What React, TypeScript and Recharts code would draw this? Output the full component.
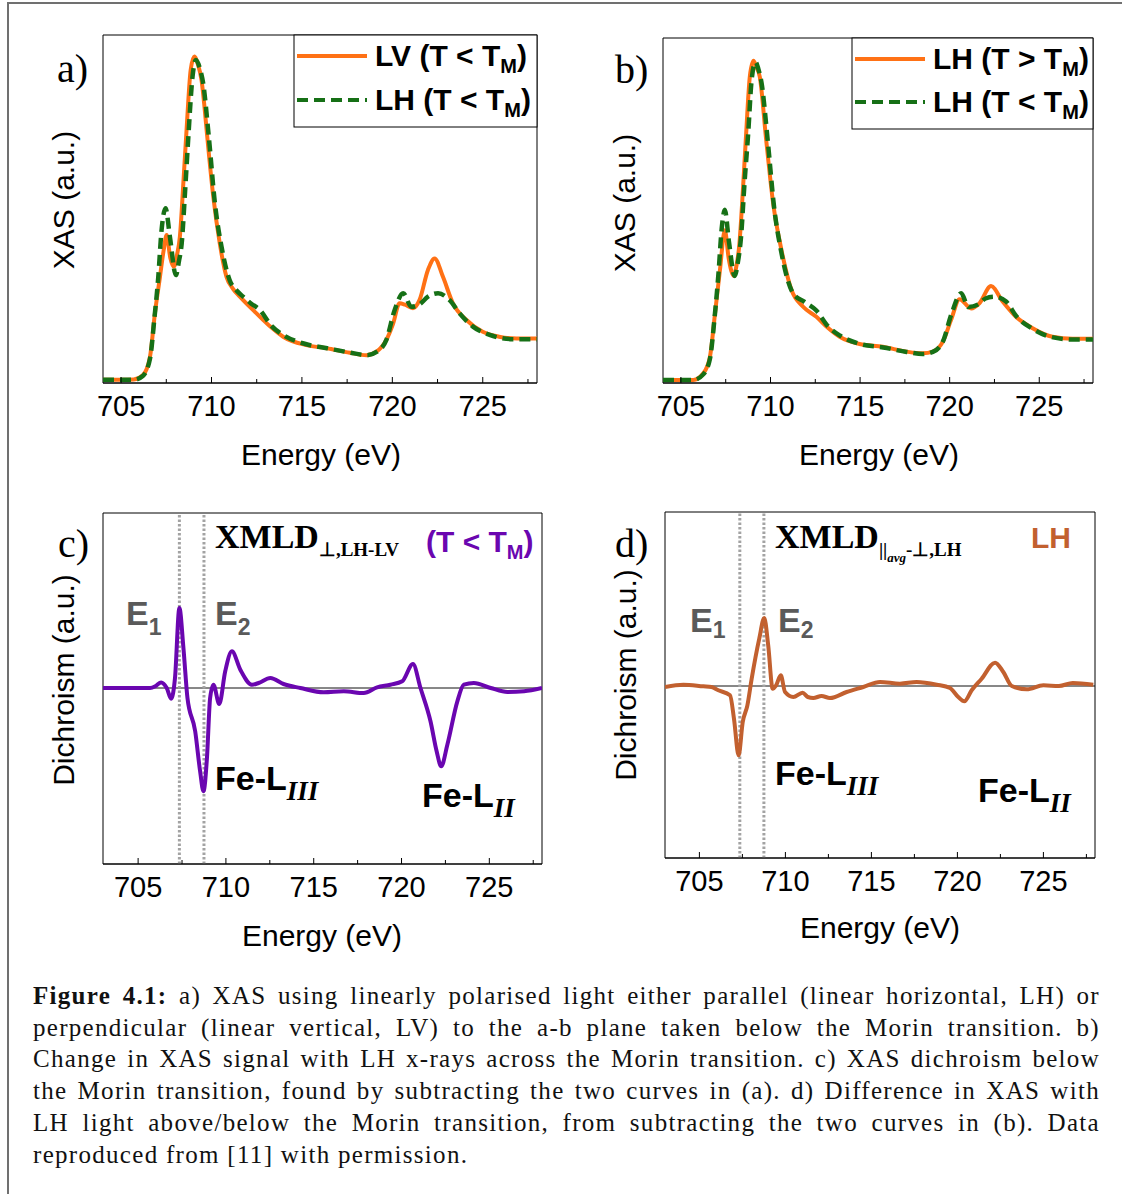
import React from "react";
import { LineChart, Line, XAxis, YAxis, ReferenceArea, ReferenceLine } from "recharts";

const SANS = '"Liberation Sans", Arial, sans-serif';
const SERIF = '"Liberation Serif", "Times New Roman", serif';

const ORANGE = "#ff7115";
const GREEN = "#167016";
const PURPLE = "#6a06b0";
const BROWN = "#c2602f";
const GREY_TEXT = "#5a5a5a";

// x ticks (eV): every 2.5 eV, labels every 5 eV
const X_TICKS = [705, 707.5, 710, 712.5, 715, 717.5, 720, 722.5, 725, 727.5];
const X_LABELS = [705, 710, 715, 720, 725];

// dotted guide lines at E1 / E2
const E_MARKERS = [707.35, 708.75];

// a) LV (T < TM)  [energy, XAS]
const A_LV = [
  [704.0, 0.009], [705.0, 0.009], [705.7, 0.01], [706.2, 0.022], [706.6, 0.076], [706.87, 0.2],
  [707.15, 0.305], [707.35, 0.38], [707.52, 0.425], [707.72, 0.36], [707.92, 0.334], [708.1, 0.37],
  [708.25, 0.42], [708.45, 0.58], [708.62, 0.727], [708.85, 0.9], [709.05, 0.938], [709.25, 0.915],
  [709.45, 0.87], [709.6, 0.8], [709.73, 0.727], [710.1, 0.535], [710.46, 0.4], [710.83, 0.305],
  [711.2, 0.27], [711.57, 0.248], [712.49, 0.2], [713.3, 0.16], [713.96, 0.133], [715.25, 0.109],
  [716.36, 0.1], [717.65, 0.087], [718.57, 0.08], [719.12, 0.09], [719.67, 0.124], [720.04, 0.17],
  [720.4, 0.229], [720.7, 0.225], [721.14, 0.215], [721.5, 0.238], [721.97, 0.325], [722.34, 0.358],
  [722.8, 0.305], [723.35, 0.229], [724.1, 0.181], [725.0, 0.147], [725.9, 0.133], [726.86, 0.128],
  [728.0, 0.128],
];

// a) LH (T < TM)
const A_LH = [
  [704.0, 0.009], [705.7, 0.009], [706.2, 0.02], [706.6, 0.07], [706.85, 0.19], [707.05, 0.3],
  [707.24, 0.44], [707.46, 0.502], [707.7, 0.42], [708.03, 0.31], [708.2, 0.35], [708.35, 0.4],
  [708.55, 0.56], [708.72, 0.708], [708.95, 0.88], [709.14, 0.928], [709.35, 0.905], [709.54, 0.861],
  [709.85, 0.708], [710.19, 0.516], [710.56, 0.39], [711.0, 0.296], [711.4, 0.265], [711.75, 0.248],
  [712.2, 0.228], [712.67, 0.21], [713.3, 0.165], [713.96, 0.138], [715.2, 0.112], [716.4, 0.1],
  [717.6, 0.088], [718.6, 0.08], [719.15, 0.09], [719.67, 0.124], [720.13, 0.21], [720.6, 0.258],
  [721.05, 0.219], [721.5, 0.226], [721.97, 0.248], [722.53, 0.258], [723.17, 0.238], [723.72, 0.2],
  [724.46, 0.162], [725.38, 0.138], [726.67, 0.126], [728.0, 0.126],
];

// b) LH (T > TM)
const B_LH_ABOVE = [
  [704.0, 0.009], [705.69, 0.009], [706.25, 0.028], [706.62, 0.076], [706.9, 0.2], [707.18, 0.328],
  [707.45, 0.443], [707.67, 0.36], [707.96, 0.31], [708.1, 0.34], [708.25, 0.395], [708.45, 0.55],
  [708.62, 0.704], [708.85, 0.89], [709.05, 0.934], [709.22, 0.915], [709.4, 0.888], [709.76, 0.704],
  [710.15, 0.52], [710.61, 0.386], [711.17, 0.27], [711.82, 0.221], [712.56, 0.192], [713.2, 0.16],
  [713.86, 0.134], [714.97, 0.113], [716.27, 0.105], [717.58, 0.091], [718.5, 0.086], [719.06, 0.091],
  [719.62, 0.12], [720.08, 0.183], [720.55, 0.243], [721.2, 0.216], [721.66, 0.231], [722.31, 0.281],
  [722.96, 0.236], [723.7, 0.192], [724.63, 0.159], [725.74, 0.134], [726.86, 0.128], [728.0, 0.128],
];

// b) LH (T < TM)
const B_LH_BELOW = [
  [704.0, 0.009], [705.7, 0.009], [706.25, 0.025], [706.62, 0.07], [706.88, 0.19], [707.1, 0.32],
  [707.28, 0.45], [707.45, 0.502], [707.68, 0.41], [708.0, 0.31], [708.18, 0.35], [708.35, 0.42],
  [708.55, 0.58], [708.75, 0.72], [708.95, 0.88], [709.16, 0.93], [709.35, 0.905], [709.5, 0.87],
  [709.85, 0.7], [710.2, 0.51], [710.6, 0.38], [711.26, 0.26], [711.9, 0.235], [712.56, 0.21],
  [713.2, 0.165], [713.86, 0.138], [715.0, 0.113], [716.3, 0.103], [717.6, 0.09], [718.5, 0.084],
  [719.06, 0.09], [719.62, 0.12], [720.1, 0.2], [720.64, 0.26], [721.05, 0.22], [721.6, 0.228],
  [722.0, 0.245], [722.5, 0.25], [723.15, 0.236], [723.7, 0.195], [724.6, 0.158], [725.7, 0.133],
  [726.9, 0.126], [728.0, 0.126],
];

// c) XMLD perp, LH-LV
const C_XMLD = [
  [703.0, 0], [705.68, 0], [706.0, 0.02], [706.31, 0.056], [706.63, 0], [706.88, -0.107],
  [707.1, 0.1], [707.35, 0.8], [707.58, 0.4], [707.81, -0.1], [708.25, -0.433], [708.53, -0.833],
  [708.72, -1.033], [708.92, -0.7], [709.1, -0.1], [709.29, 0.033], [709.62, -0.16], [709.96, 0.167],
  [710.34, 0.367], [710.82, 0.183], [711.48, 0.033], [711.86, 0.05], [712.53, 0.1], [713.28, 0.04],
  [714.24, 0], [715.57, -0.043], [716.71, -0.033], [717.85, -0.05], [718.61, 0.007], [719.37, 0.033],
  [720.04, 0.067], [720.65, 0.24], [721.08, 0], [721.65, -0.333], [722.0, -0.633], [722.26, -0.783],
  [722.61, -0.567], [723.18, -0.133], [723.55, 0.033], [724.12, 0.05], [725.08, 0], [726.03, -0.04],
  [726.98, -0.033], [728.0, 0],
];

// d) XMLD par(avg)-perp, LH
const D_XMLD = [
  [703.0, -0.01], [704.07, 0.013], [705.23, -0.003], [705.7, -0.01], [706.1, -0.043], [706.78, -0.093],
  [707.01, -0.327], [707.28, -0.693], [707.52, -0.36], [707.79, -0.193], [708.04, 0.073],
  [708.48, 0.473], [708.77, 0.68], [709.0, 0.407], [709.26, -0.027], [709.46, 0.007], [709.73, 0.107],
  [709.98, -0.06], [710.46, -0.11], [711.0, -0.067], [711.3, -0.11], [711.62, -0.12], [712.1, -0.1],
  [712.59, -0.12], [713.56, -0.06], [714.53, -0.01], [715.5, 0.04], [716.66, 0.023], [717.63, 0.04],
  [718.8, 0.013], [719.57, -0.02], [720.05, -0.11], [720.4, -0.153], [720.83, -0.043], [721.41, 0.073],
  [722.19, 0.233], [722.67, 0.14], [723.16, 0], [724.03, -0.033], [725.0, 0.007], [725.9, 0],
  [726.71, 0.03], [727.9, 0.013],
];

const toPts = (rows: number[][]) => rows.map(([e, v]) => ({ e, v }));

const PAD = 10;
const AXIS_H = 50;

function EnergyTick(props: any) {
  const { x, y, payload } = props;
  const labelled = X_LABELS.includes(payload.value);
  return (
    <g>
      <line x1={x} x2={x} y1={y} y2={y - (labelled ? 6 : 4)} stroke="#000" strokeWidth={1} />
      {labelled && (
        <text x={x} y={y + 33} textAnchor="middle" fontFamily={SANS} fontSize={29} fill="#000">
          {payload.value}
        </text>
      )}
    </g>
  );
}

type Series = { key: string; rows: number[][]; color: string; dash?: string; width?: number };

function Panel({
  box,
  xDomain,
  yDomain,
  series,
  diff = false,
}: {
  box: [number, number, number, number];
  xDomain: [number, number];
  yDomain: [number, number];
  series: Series[];
  diff?: boolean;
}) {
  const [l, t, r, b] = box;
  const w = r - l;
  const h = b - t;
  return (
    <div style={{ position: "absolute", left: l - PAD, top: t - PAD }}>
      <LineChart
        width={w + 2 * PAD}
        height={h + PAD + AXIS_H}
        margin={{ top: PAD, right: PAD, bottom: 0, left: PAD }}
      >
        <XAxis
          dataKey="e"
          type="number"
          domain={xDomain}
          ticks={X_TICKS}
          interval={0}
          tick={<EnergyTick />}
          tickLine={false}
          tickSize={0}
          tickMargin={0}
          height={AXIS_H}
          axisLine={{ stroke: "#000" }}
          allowDataOverflow
        />
        <YAxis hide type="number" domain={yDomain} allowDataOverflow />
        <ReferenceArea
          x1={xDomain[0]}
          x2={xDomain[1]}
          y1={yDomain[0]}
          y2={yDomain[1]}
          fill="none"
          stroke="#000"
          strokeWidth={1}
        />
        {diff && <ReferenceLine y={0} stroke="#111" strokeWidth={1} />}
        {diff &&
          E_MARKERS.map((m) => (
            <ReferenceLine key={m} x={m} stroke="#a3a3a3" strokeWidth={3} strokeDasharray="2.5 2" />
          ))}
        {series.map((s) => (
          <Line
            key={s.key}
            data={toPts(s.rows)}
            dataKey="v"
            type="monotone"
            stroke={s.color}
            strokeWidth={s.width ?? 4}
            strokeDasharray={s.dash}
            dot={false}
            activeDot={false}
            isAnimationActive={false}
          />
        ))}
      </LineChart>
    </div>
  );
}

function Legend2({
  x,
  y,
  w,
  h,
  rows,
}: {
  x: number;
  y: number;
  w: number;
  h: number;
  rows: { label: string; rel: string; color: string; dash?: string; cy: number }[];
}) {
  return (
    <g>
      <rect x={x} y={y} width={w} height={h} fill="#fff" stroke="#000" strokeWidth={1} />
      {rows.map((r) => (
        <g key={r.label + r.rel}>
          <line x1={x + 3} x2={x + 73} y1={r.cy} y2={r.cy} stroke={r.color} strokeWidth={4} strokeDasharray={r.dash} />
          <text x={x + 81} y={r.cy + 10} fontFamily={SANS} fontWeight="bold" fontSize={30} fill="#000">
            {r.label} (T {r.rel} T
            <tspan fontSize={20} dy={7}>M</tspan>
            <tspan dy={-7}>)</tspan>
          </text>
        </g>
      ))}
    </g>
  );
}

function Sub({ x, y, main, sub, size, subSize, color, dy = 9, italicSerif = false }: any) {
  return (
    <text x={x} y={y} fontFamily={SANS} fontWeight="bold" fontSize={size} fill={color}>
      {main}
      <tspan
        dy={dy}
        fontSize={subSize}
        fontFamily={italicSerif ? SERIF : SANS}
        fontStyle={italicSerif ? "italic" : "normal"}
      >
        {sub}
      </tspan>
    </text>
  );
}

const CAPTION = [
  "a) XAS using linearly polarised light either parallel (linear horizontal, LH) or",
  "perpendicular (linear vertical, LV) to the a-b plane taken below the Morin transition. b)",
  "Change in XAS signal with LH x-rays across the Morin transition. c) XAS dichroism below",
  "the Morin transition, found by subtracting the two curves in (a). d) Difference in XAS with",
  "LH light above/below the Morin transition, from subtracting the two curves in (b). Data",
  "reproduced from [11] with permission.",
];

export default function App() {
  return (
    <div
      style={{
        position: "absolute",
        left: 0,
        top: 0,
        width: 1122,
        height: 1194,
        overflow: "hidden",
        background: "#fff",
      }}
    >
      <div
        style={{
          position: "absolute",
          left: 7,
          top: 2,
          width: 1113,
          height: 1190,
          borderLeft: "2px solid #707070",
          borderTop: "2px solid #707070",
        }}
      />

      <Panel
        box={[103, 35, 537, 383]}
        xDomain={[704, 728]}
        yDomain={[0, 1]}
        series={[
          { key: "lv", rows: A_LV, color: ORANGE },
          { key: "lh", rows: A_LH, color: GREEN, dash: "11 6", width: 4.5 },
        ]}
      />
      <Panel
        box={[663, 38, 1093, 383]}
        xDomain={[704, 728]}
        yDomain={[0, 1]}
        series={[
          { key: "above", rows: B_LH_ABOVE, color: ORANGE },
          { key: "below", rows: B_LH_BELOW, color: GREEN, dash: "11 6", width: 4.5 },
        ]}
      />
      <Panel
        box={[103, 513, 542, 864]}
        xDomain={[703, 728]}
        yDomain={[-1.76, 1.75]}
        diff
        series={[{ key: "c", rows: C_XMLD, color: PURPLE }]}
      />
      <Panel
        box={[665, 512, 1095, 858]}
        xDomain={[703, 728]}
        yDomain={[-1.72, 1.74]}
        diff
        series={[{ key: "d", rows: D_XMLD, color: BROWN }]}
      />

      <svg
        width={1122}
        height={1194}
        style={{ position: "absolute", left: 0, top: 0, pointerEvents: "none" }}
      >
        {/* panel letters */}
        <g fontFamily={SERIF} fontSize={40} fill="#000">
          <text x={57} y={82}>a)</text>
          <text x={615} y={83}>b)</text>
          <text x={58} y={557}>c)</text>
          <text x={615} y={557}>d)</text>
        </g>

        {/* axis titles */}
        <g fontFamily={SANS} fontSize={30} fill="#000" textAnchor="middle">
          <text transform="translate(74,200) rotate(-90)">XAS (a.u.)</text>
          <text transform="translate(635,203) rotate(-90)">XAS (a.u.)</text>
          <text transform="translate(74,680) rotate(-90)">Dichroism (a.u.)</text>
          <text transform="translate(636,675) rotate(-90)">Dichroism (a.u.)</text>
          <text x={321} y={465}>Energy (eV)</text>
          <text x={879} y={465}>Energy (eV)</text>
          <text x={322} y={946}>Energy (eV)</text>
          <text x={880} y={938}>Energy (eV)</text>
        </g>

        <Legend2
          x={294}
          y={35}
          w={243}
          h={92}
          rows={[
            { label: "LV", rel: "<", color: ORANGE, cy: 56 },
            { label: "LH", rel: "<", color: GREEN, dash: "11 6", cy: 100 },
          ]}
        />
        <Legend2
          x={852}
          y={38}
          w={241}
          h={91}
          rows={[
            { label: "LH", rel: ">", color: ORANGE, cy: 59 },
            { label: "LH", rel: "<", color: GREEN, dash: "11 6", cy: 102 },
          ]}
        />

        {/* c) annotations */}
        <text x={215} y={548} fontFamily={SERIF} fontWeight="bold" fontSize={34} fill="#000">
          XMLD
          <tspan dy={8} fontSize={19}>⊥,LH-LV</tspan>
        </text>
        <text x={426} y={552} fontFamily={SANS} fontWeight="bold" fontSize={30} fill={PURPLE}>
          (T &lt; T<tspan dy={7} fontSize={20}>M</tspan>
          <tspan dy={-7}>)</tspan>
        </text>
        <Sub x={126} y={625} main="E" sub="1" size={34} subSize={23} color={GREY_TEXT} dy={10} />
        <Sub x={215} y={625} main="E" sub="2" size={34} subSize={23} color={GREY_TEXT} dy={10} />
        <Sub x={215} y={790} main="Fe-L" sub="III" size={34} subSize={27} color="#000" dy={10} italicSerif />
        <Sub x={422} y={807} main="Fe-L" sub="II" size={34} subSize={27} color="#000" dy={10} italicSerif />

        {/* d) annotations */}
        <text x={775} y={548} fontFamily={SERIF} fontWeight="bold" fontSize={34} fill="#000">
          XMLD
          <tspan dy={8} fontSize={19}>||</tspan>
          <tspan dy={6} fontSize={13} fontStyle="italic">avg</tspan>
          <tspan dy={-6} fontSize={19}>-⊥,LH</tspan>
        </text>
        <text x={1031} y={548} fontFamily={SANS} fontWeight="bold" fontSize={30} fill={BROWN}>
          LH
        </text>
        <Sub x={690} y={632} main="E" sub="1" size={34} subSize={23} color={GREY_TEXT} dy={6} />
        <Sub x={778} y={632} main="E" sub="2" size={34} subSize={23} color={GREY_TEXT} dy={6} />
        <Sub x={775} y={785} main="Fe-L" sub="III" size={34} subSize={27} color="#000" dy={10} italicSerif />
        <Sub x={978} y={802} main="Fe-L" sub="II" size={34} subSize={27} color="#000" dy={10} italicSerif />
      </svg>

      <div
        style={{
          position: "absolute",
          left: 33,
          top: 980,
          width: 1067,
          fontFamily: SERIF,
          fontSize: 25,
          letterSpacing: "1.3px",
          lineHeight: "31.7px",
          color: "#111",
        }}
      >
        {CAPTION.map((line, i) => (
          <div
            key={i}
            style={{
              textAlign: "justify",
              textAlignLast: i < CAPTION.length - 1 ? "justify" : "left",
              whiteSpace: "nowrap",
            }}
          >
            {i === 0 && <b>Figure 4.1: </b>}
            {line}
          </div>
        ))}
      </div>
    </div>
  );
}
